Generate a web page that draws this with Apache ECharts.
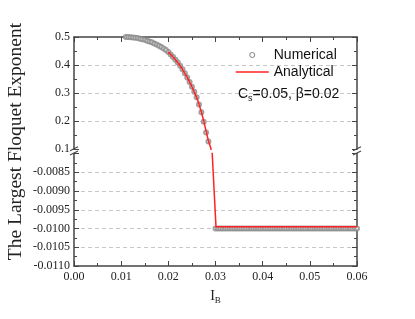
<!DOCTYPE html>
<html>
<head>
<meta charset="utf-8">
<script src="https://cdn.jsdelivr.net/npm/echarts@6/dist/echarts.min.js"></script>
<style>
html,body{margin:0;padding:0;background:#fff;}
#c{width:415px;height:319px;}
</style>
</head>
<body>
<div id="c"></div>
<script>
// ---- data ----
const numTopX = [0.0110,0.0115,0.0120,0.0125,0.0130,0.0135,0.0140,0.0145,0.0150,0.0155,0.0160,0.0165,0.0170,0.0175,0.0180,0.0185,0.0190,0.0195,0.0200,0.0205,0.0210,0.0215,0.0220,0.0225,0.0230,0.0235,0.0240,0.0245,0.0250,0.0255,0.0260,0.0265,0.0270,0.0275,0.0280,0.0285];
const numTopY = [0.500,0.500,0.499,0.498,0.497,0.496,0.494,0.492,0.490,0.487,0.484,0.481,0.477,0.473,0.469,0.464,0.459,0.454,0.447,0.438,0.429,0.419,0.409,0.398,0.385,0.371,0.356,0.340,0.323,0.305,0.285,0.260,0.232,0.198,0.160,0.128];
const numBotX = [0.0300,0.0305,0.0310,0.0315,0.0320,0.0325,0.0330,0.0335,0.0340,0.0345,0.0350,0.0355,0.0360,0.0365,0.0370,0.0375,0.0380,0.0385,0.0390,0.0395,0.0400,0.0405,0.0410,0.0415,0.0420,0.0425,0.0430,0.0435,0.0440,0.0445,0.0450,0.0455,0.0460,0.0465,0.0470,0.0475,0.0480,0.0485,0.0490,0.0495,0.0500,0.0505,0.0510,0.0515,0.0520,0.0525,0.0530,0.0535,0.0540,0.0545,0.0550,0.0555,0.0560,0.0565,0.0570,0.0575,0.0580,0.0585,0.0590,0.0595,0.0600];
const numBotY = [-0.0100,-0.0100,-0.0100,-0.0100,-0.0100,-0.0100,-0.0100,-0.0100,-0.0100,-0.0100,-0.0100,-0.0100,-0.0100,-0.0100,-0.0100,-0.0100,-0.0100,-0.0100,-0.0100,-0.0100,-0.0100,-0.0100,-0.0100,-0.0100,-0.0100,-0.0100,-0.0100,-0.0100,-0.0100,-0.0100,-0.0100,-0.0100,-0.0100,-0.0100,-0.0100,-0.0100,-0.0100,-0.0100,-0.0100,-0.0100,-0.0100,-0.0100,-0.0100,-0.0100,-0.0100,-0.0100,-0.0100,-0.0100,-0.0100,-0.0100,-0.0100,-0.0100,-0.0100,-0.0100,-0.0100,-0.0100,-0.0100,-0.0100,-0.0100,-0.0100,-0.0100];
const anaTopX = [0.0199,0.0205,0.0210,0.0220,0.0230,0.0240,0.0250,0.0260,0.0265,0.0270,0.0275,0.0280,0.0285,0.0290,0.0293];
const anaTopY = [0.447,0.438,0.429,0.409,0.385,0.356,0.323,0.285,0.261,0.233,0.201,0.165,0.130,0.105,0.070];
const anaBotX = [0.0291,0.0301,0.0600];
const anaBotY = [-0.0075,-0.00995,-0.00995];
const xTickLabels = ['0.00','0.01','0.02','0.03','0.04','0.05','0.06'];
const yTopTickLabels = ['0.1','0.2','0.3','0.4','0.5'];
const yBotTickLabels = ['-0.0110','-0.0105','-0.0100','-0.0095','-0.0090','-0.0085'];

const zip = (a, b) => a.map((v, i) => [v, b[i]]);
const serif = '"Liberation Serif", "Times New Roman", serif';
const sans = '"Liberation Sans", Arial, sans-serif';
const axisCol = '#444';
const circCol = '#8a8a8a';
const red = '#f22';

const chart = echarts.init(document.getElementById('c'), null, {renderer: 'canvas'});

function xAxisCfg(grid, pos, labels) {
  return {
    type: 'value', gridIndex: grid, position: pos, min: 0, max: 0.06, interval: 0.01,
    axisLine: {show: true, onZero: false, lineStyle: {color: axisCol, width: 1.5}},
    axisTick: {show: true, inside: true, length: 5, lineStyle: {color: axisCol, width: 1}},
    minorTick: {show: true, splitNumber: 2, length: 3, lineStyle: {color: axisCol, width: 1}},
    axisLabel: labels ? {show: true, fontFamily: serif, fontSize: 12, color: '#222', margin: 5,
      formatter: v => { const i = Math.round(v / 0.01); return xTickLabels[i] !== undefined ? xTickLabels[i] : ''; }} : {show: false},
    splitLine: {show: false}
  };
}
function yAxisCfg(grid, pos, min, max, interval, labels, fmt, split) {
  return {
    type: 'value', gridIndex: grid, position: pos, min: min, max: max, interval: interval,
    axisLine: {show: true, onZero: false, lineStyle: {color: axisCol, width: 1.5}},
    axisTick: {show: true, inside: true, length: 5, lineStyle: {color: axisCol, width: 1}},
    minorTick: {show: true, splitNumber: 2, length: 3, lineStyle: {color: axisCol, width: 1}},
    axisLabel: labels ? {show: true, fontFamily: serif, fontSize: 12, color: '#222', margin: 4, formatter: fmt} : {show: false},
    splitLine: split ? {show: true, showMinLine: false, showMaxLine: false, lineStyle: {color: '#c8c8c8', type: [4, 3], width: 1}} : {show: false}
  };
}

const option = {
  animation: false,
  backgroundColor: '#fff',
  grid: [
    {left: 74, right: 58, top: 37, bottom: 319 - 149.3},
    {left: 74, right: 58, top: 153.5, bottom: 53}
  ],
  xAxis: [
    xAxisCfg(0, 'top', false),
    Object.assign(xAxisCfg(1, 'bottom', true), {
      name: 'I{s|B}', nameLocation: 'middle', nameGap: 22,
      nameTextStyle: {fontFamily: serif, fontSize: 14, color: '#222',
        rich: {s: {fontFamily: serif, fontSize: 9, color: '#222', verticalAlign: 'bottom', padding: [8, 0, 0, 0]}}}
    })
  ],
  yAxis: [
    yAxisCfg(0, 'left', 0.1, 0.5, 0.1, true, v => { const i = Math.round(v * 10) - 1; return yTopTickLabels[i] || ''; }, true),
    yAxisCfg(0, 'right', 0.1, 0.5, 0.1, false, null, false),
    yAxisCfg(1, 'left', -0.011, -0.008, 0.0005, true, v => { const i = Math.round((v + 0.011) / 0.0005); return yBotTickLabels[i] || ''; }, true),
    yAxisCfg(1, 'right', -0.011, -0.008, 0.0005, false, null, false)
  ],
  legend: {
    orient: 'vertical', left: 235, top: 48, padding: 0, itemWidth: 33, itemHeight: 5, itemGap: 3,
    textStyle: {fontFamily: sans, fontSize: 14, color: '#111'},
    data: [
      {name: 'Numerical', icon: 'circle', itemStyle: {color: '#fff', borderColor: '#666', borderWidth: 1}},
      {name: 'Analytical', icon: 'line', itemStyle: {color: red, borderColor: red, borderWidth: 1.5}}
    ]
  },
  title: {
    text: 'C{s|s}=0.05, β=0.02', left: 238, top: 85, padding: 0,
    textStyle: {fontFamily: sans, fontSize: 14, fontWeight: 'normal', color: '#111',
      rich: {s: {fontFamily: sans, fontSize: 9, color: '#111', verticalAlign: 'bottom', padding: [9, 0, 0, 0]}}}
  },
  series: [
    {name: 'Numerical', type: 'scatter', xAxisIndex: 0, yAxisIndex: 0, data: zip(numTopX, numTopY),
      symbol: 'emptyCircle', symbolSize: 4, itemStyle: {color: circCol, borderWidth: 0.8}, z: 2},
    {name: 'Numerical', type: 'scatter', xAxisIndex: 1, yAxisIndex: 2, data: zip(numBotX, numBotY),
      symbol: 'emptyCircle', symbolSize: 4, itemStyle: {color: circCol, borderWidth: 0.8}, z: 2},
    {name: 'Analytical', type: 'line', xAxisIndex: 0, yAxisIndex: 0, data: zip(anaTopX, anaTopY),
      showSymbol: false, symbol: 'none', clip: true, lineStyle: {color: red, width: 1.5}, itemStyle: {color: red}, z: 3},
    {name: 'Analytical', type: 'line', xAxisIndex: 1, yAxisIndex: 2, data: zip(anaBotX, anaBotY),
      showSymbol: false, symbol: 'none', clip: true, lineStyle: {color: red, width: 1.5}, itemStyle: {color: red}, z: 3}
  ]
};
chart.setOption(option);

// y-axis title and axis-break marks
const pTop = chart.convertToPixel({gridIndex: 0}, [0, 0.1]);
const pBot = chart.convertToPixel({gridIndex: 1}, [0, -0.008]);
const pTopR = chart.convertToPixel({gridIndex: 0}, [0.06, 0.1]);
const pTopL = chart.convertToPixel({gridIndex: 0}, [0, 0.5]);
const pBotL = chart.convertToPixel({gridIndex: 1}, [0, -0.011]);
function breakMarks(x) {
  const y1 = pTop[1] - 0.5, y2 = pBot[1] - 0.5;
  return [
    {type: 'line', shape: {x1: x - 4, y1: y1 + 2, x2: x + 4, y2: y1 - 2}, style: {stroke: axisCol, lineWidth: 1.2}},
    {type: 'line', shape: {x1: x - 4, y1: y2 + 2, x2: x + 4, y2: y2 - 2}, style: {stroke: axisCol, lineWidth: 1.2}}
  ];
}
chart.setOption({
  graphic: [
    ...breakMarks(pTop[0]), ...breakMarks(pTopR[0]),
    {type: 'text', x: 16, y: (pTopL[1] + pBotL[1]) / 2 - 10, rotation: Math.PI / 2,
      style: {text: 'The Largest Floquet Exponent', fontFamily: serif, fontSize: 19.5, fill: '#222', align: 'center', verticalAlign: 'middle'}}
  ]
});
</script>
</body>
</html>
